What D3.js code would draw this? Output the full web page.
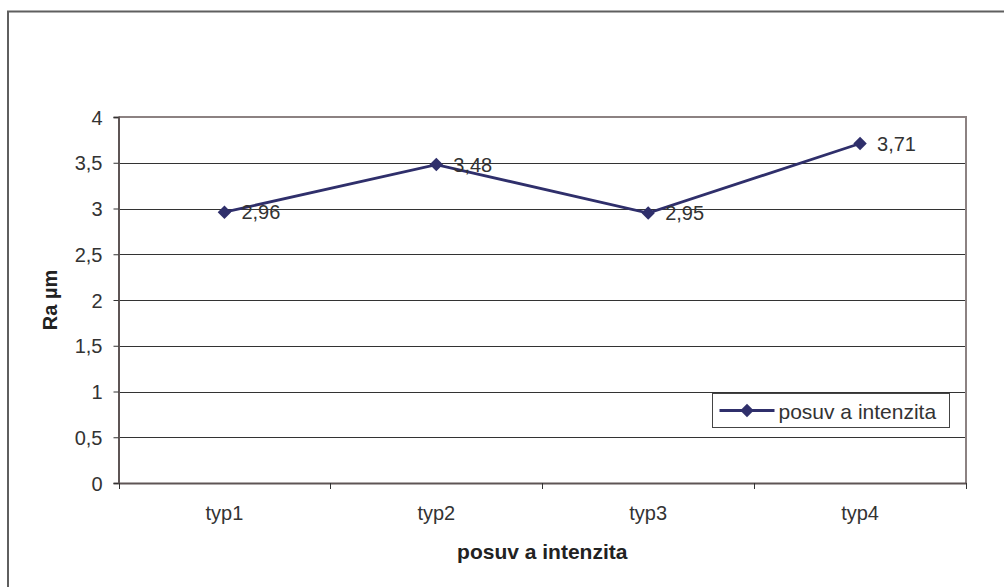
<!DOCTYPE html>
<html>
<head>
<meta charset="utf-8">
<script src="https://cdn.jsdelivr.net/npm/d3@7"></script>
<style>
  html, body { margin: 0; padding: 0; background: #fff; }
  svg { display: block; font-family: "Liberation Sans", Arial, sans-serif; }
</style>
</head>
<body>
<svg id="chart" width="1004" height="587"></svg>
<script>
// Surface roughness Ra per machining type
const categories = ["typ1", "typ2", "typ3", "typ4"];
const raValues = [2.96, 3.48, 2.95, 3.71];
const yTicks = [0, 0.5, 1, 1.5, 2, 2.5, 3, 3.5, 4];
const seriesName = "posuv a intenzita";
const yTitle = "Ra µm";
const xTitle = "posuv a intenzita";

const svg = d3.select("#chart");
const plot = { left: 118.5, right: 966, top: 117, bottom: 483 };
const lineColor = "#2f2f6b";
const textColor = "#333";
const fontFamily = "Liberation Sans, Arial, sans-serif";
const fmt = v => String(v).replace(".", ",");

// Outer chart frame (runs past the right and bottom edge)
svg.append("rect")
  .attr("x", 8).attr("y", 11.5)
  .attr("width", 1010).attr("height", 600)
  .attr("fill", "none").attr("stroke", "#5f5f5f").attr("stroke-width", 2);

const x = d3.scaleBand().domain(categories).range([plot.left, plot.right]).padding(0);
const y = d3.scaleLinear().domain([0, 4]).range([plot.bottom, plot.top]);

// Horizontal gridlines
svg.append("g")
  .selectAll("line")
  .data(yTicks.filter(t => t > 0 && t < 4))
  .join("line")
  .attr("x1", plot.left).attr("x2", plot.right)
  .attr("y1", d => Math.round(y(d)) + 0.5).attr("y2", d => Math.round(y(d)) + 0.5)
  .attr("stroke", "#333").attr("stroke-width", 1);

// Plot area border
svg.append("path")
  .attr("d", `M${plot.left},${plot.top}H${plot.right}V${plot.bottom}`)
  .attr("fill", "none").attr("stroke", "#8c8282").attr("stroke-width", 2);

// Y axis
const yAxis = svg.append("g")
  .attr("transform", `translate(${plot.left},0)`)
  .call(d3.axisLeft(y).tickValues(yTicks).tickSize(5).tickPadding(11).tickFormat(fmt));
yAxis.select(".domain").attr("stroke", "#5e5555").attr("stroke-width", 2);
yAxis.selectAll(".tick line").attr("stroke", "#333");
yAxis.selectAll(".tick text").attr("fill", textColor).attr("font-size", 20)
  .attr("font-family", fontFamily).attr("dy", "0.36em");

// X axis: category labels centred in bands, ticks at band boundaries
const xAxis = svg.append("g")
  .attr("transform", `translate(0,${plot.bottom})`)
  .call(d3.axisBottom(x).tickSize(0).tickPadding(0));
xAxis.select(".domain").attr("stroke", "#5e5555").attr("stroke-width", 2);
xAxis.selectAll(".tick text").attr("fill", textColor).attr("font-size", 20)
  .attr("font-family", fontFamily).attr("y", 37).attr("dy", null);
const bounds = categories.map(c => x(c)).concat([x(categories[categories.length - 1]) + x.bandwidth()]);
svg.append("g").selectAll("line").data(bounds).join("line")
  .attr("x1", d => Math.round(d) + 0.5).attr("x2", d => Math.round(d) + 0.5)
  .attr("y1", plot.bottom).attr("y2", plot.bottom + 6)
  .attr("stroke", "#333").attr("stroke-width", 1);

// Series line
const cx = c => x(c) + x.bandwidth() / 2;
const pts = categories.map((c, i) => [cx(c), y(raValues[i])]);
svg.append("path")
  .attr("d", d3.line()(pts))
  .attr("fill", "none").attr("stroke", lineColor).attr("stroke-width", 2.8);

// Diamond markers
const diamond = d3.symbol().type(d3.symbolDiamond2).size(115);
svg.append("g").selectAll("path").data(pts).join("path")
  .attr("transform", d => `translate(${d[0]},${d[1]})`)
  .attr("d", diamond)
  .attr("fill", lineColor);

// Value labels
svg.append("g").selectAll("text").data(categories).join("text")
  .attr("x", c => cx(c) + 17)
  .attr("y", (c, i) => y(raValues[i]) + 7)
  .attr("font-size", 20).attr("fill", textColor)
  .text((c, i) => fmt(raValues[i]));

// Axis titles
svg.append("text")
  .attr("transform", `translate(57,${(plot.top + plot.bottom) / 2}) rotate(-90)`)
  .attr("text-anchor", "middle")
  .attr("font-size", 20).attr("font-weight", "bold").attr("fill", "#222")
  .text(yTitle);
svg.append("text")
  .attr("x", (plot.left + plot.right) / 2).attr("y", 559)
  .attr("text-anchor", "middle")
  .attr("font-size", 21).attr("font-weight", "bold").attr("fill", "#222")
  .text(xTitle);

// Legend
const lg = svg.append("g").attr("transform", "translate(712.5,393.5)");
lg.append("rect").attr("width", 237).attr("height", 34)
  .attr("fill", "#fff").attr("stroke", "#444").attr("stroke-width", 1);
lg.append("line").attr("x1", 7).attr("x2", 62).attr("y1", 17).attr("y2", 17)
  .attr("stroke", lineColor).attr("stroke-width", 2.8);
lg.append("path").attr("transform", "translate(34.5,17)").attr("d", diamond).attr("fill", lineColor);
lg.append("text").attr("x", 66).attr("y", 25)
  .attr("font-size", 21).attr("fill", textColor).text(seriesName);
</script>
</body>
</html>
